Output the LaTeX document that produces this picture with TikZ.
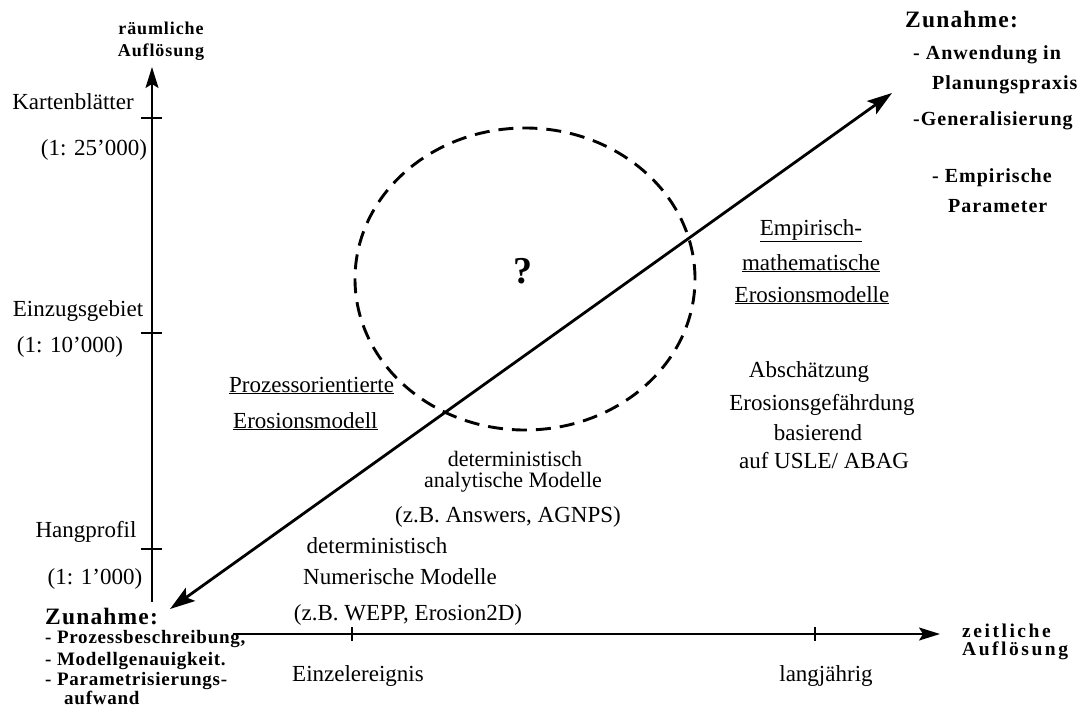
\documentclass[tikz,border=0pt]{standalone}
\usepackage{fontspec}
\setmainfont{Liberation Serif}
\newfontfamily\spbf[LetterSpace=5]{Liberation Serif}
\newfontfamily\spbfn[LetterSpace=4]{Liberation Serif}
\newfontfamily\spbfw[LetterSpace=13]{Liberation Serif}
\usetikzlibrary{arrows.meta}
\newcommand{\rmtxt}{\fontsize{23}{25}\selectfont}
\newcommand{\rmtight}{\fontsize{22}{24}\selectfont}
\newcommand{\bldsmall}{\spbf\bfseries\fontsize{18}{20}\selectfont}
\newcommand{\bldlist}{\spbfn\bfseries\fontsize{19}{21}\selectfont}
\newcommand{\bldlistr}{\spbf\bfseries\fontsize{20}{22}\selectfont}
\newcommand{\bldbig}{\spbf\bfseries\fontsize{23.5}{25}\selectfont}
\newcommand{\bldwide}{\spbfw\bfseries\fontsize{19.5}{21}\selectfont}
\begin{document}
\begin{tikzpicture}[x=1pt,y=-1pt,
  axis/.style={line width=1.6pt,-{Stealth[length=21pt,width=13pt,inset=4pt]}},
  diag/.style={line width=2.8pt,{Stealth[length=25pt,width=16pt,inset=5pt]}-{Stealth[length=25pt,width=16pt,inset=5pt]}},
  tickmark/.style={line width=1.4pt},
  ring/.style={line width=2.9pt,dash pattern=on 15pt off 9pt},
  txt/.style={inner sep=0pt,anchor=base,font=\rmtxt},
  txtt/.style={inner sep=0pt,anchor=base,font=\rmtight},
  txtl/.style={inner sep=0pt,anchor=base west,font=\rmtxt},
  bldtl/.style={inner sep=0pt,anchor=base,font=\bldsmall},
  bldbl/.style={inner sep=0pt,anchor=base west,font=\bldlist},
  bldtr/.style={inner sep=0pt,anchor=base west,font=\bldlistr},
  bldax/.style={inner sep=0pt,anchor=base west,font=\bldwide},
  bldb/.style={inner sep=0pt,anchor=base west,font=\bldbig}]
\useasboundingbox (0,0) rectangle (1083,706);
\fill[white] (0,0) rectangle (1083,706);

% axes
\coordinate (yb) at (152,602);
\coordinate (yt) at (152,67);
\coordinate (xl) at (233,634);
\coordinate (xr) at (940,634);
\draw[axis] (yb) -- (yt);
\draw[axis] (xl) -- (xr);

% ticks
\foreach \yy in {118,333,549} \draw[tickmark] (141,\yy) -- (162,\yy);
\foreach \xx in {352,815} \draw[tickmark] (\xx,627) -- (\xx,641);

% dashed ellipse
\draw[ring] (525,279) ellipse [x radius=170pt, y radius=151pt];

% diagonal arrow
\coordinate (dl) at (170,609);
\coordinate (dr) at (892,93);
\draw[diag] (dl) -- (dr);

% vertical axis labels
\node[bldtl] (ra1) at (161,35) {räumliche};
\node[bldtl] (ra2) at (161,57) {Auflösung};
\node[txt] (k1) at (73,110) {Kartenblätter};
\node[txt] (k2) at (94,155) {(1: 25’000)};
\node[txt] (e1) at (78,316) {Einzugsgebiet};
\node[txt] (e2) at (70,352) {(1: 10’000)};
\node[txt] (h1) at (86,537) {Hangprofil};
\node[txt] (h2) at (95,584) {(1: 1’000)};

% bottom left
\node[bldb] (zl) at (45,624) {Zunahme:};
\node[bldbl] (zl1) at (45,643) {- Prozessbeschreibung,};
\node[bldbl] (zl2) at (45,665) {- Modellgenauigkeit.};
\node[bldbl] (zl3) at (45,685) {- Parametrisierungs-};
\node[bldbl] (zl4) at (64,704) {aufwand};

% top right
\node[bldb] (zr) at (905,28) {Zunahme:};
\node[bldtr] (zr1) at (913,60) {- Anwendung in};
\node[bldtr] (zr2) at (932,90) {Planungspraxis};
\node[bldtr] (zr3) at (913,125) {-Generalisierung};
\node[bldtr] (zr4) at (932,182) {- Empirische};
\node[bldtr] (zr5) at (948,212) {Parameter};

% horizontal axis labels
\node[bldax] (za1) at (962,637) {zeitliche};
\node[bldax] (za2) at (962,655) {Auflösung};
\node[txt] (ev) at (358,681) {Einzelereignis};
\node[txt] (lj) at (826,681) {langjährig};

% question mark
\node[inner sep=0pt,anchor=base,font=\bfseries\fontsize{38}{40}\selectfont] (q) at (523,283) {?};

% left model group
\node[txtl] (p1) at (229,392) {\underline{Prozessorientierte}};
\node[txtl] (p2) at (233,428) {\underline{Erosionsmodell}};

% right model group
\node[txt] (m1) at (811,235) {\underline{Empirisch-}};
\node[txt] (m2) at (811,270) {\underline{mathematische}};
\node[txt] (m3) at (812,302) {\underline{Erosionsmodelle}};
\node[txt] (a1) at (809,377) {Abschätzung};
\node[txt] (a2) at (822,410) {Erosionsgefährdung};
\node[txt] (a3) at (818,440) {basierend};
\node[txt] (a4) at (824,468) {auf USLE/ ABAG};

% middle groups
\node[txtt] (d1) at (515,466) {deterministisch};
\node[txtt] (d2) at (513,487) {analytische Modelle};
\node[txt] (d3) at (508,522) {(z.B. Answers, AGNPS)};
\node[txt] (n1) at (377,553) {deterministisch};
\node[txt] (n2) at (400,584) {Numerische Modelle};
\node[txt] (n3) at (408,620) {(z.B. WEPP, Erosion2D)};
\end{tikzpicture}
\end{document}
